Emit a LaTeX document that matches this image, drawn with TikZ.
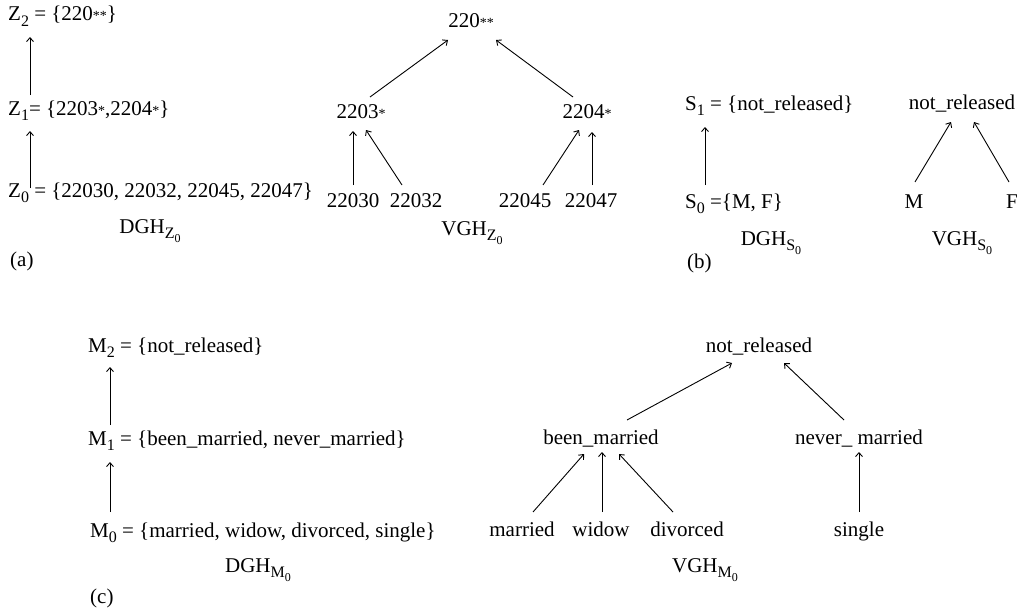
\documentclass[tikz,border=0pt]{standalone}
\usepackage{fontspec}
\setmainfont{Liberation Serif}
\usetikzlibrary{arrows.meta}
% lowered index in the running text size
\newcommand\idx[2][16]{\raisebox{-0.25em}{\fontsize{#1}{#1}\selectfont #2}}
% small generalisation star
\newcommand\gst{{\fontsize{14}{14}\selectfont *}}
\begin{document}
\begin{tikzpicture}[x=1pt,y=-1pt,
  every node/.style={font=\fontsize{21}{25}\selectfont, inner sep=0pt, anchor=base},
  lft/.style={anchor=base west},
  arr/.style={-{Straight Barb[length=4pt,width=7pt]}, line width=0.9pt}]
\useasboundingbox[fill=white] (0,0) rectangle (1024,610);

% ---------------- (a) ZIP code ----------------
\node[lft] (z2) at (8,21)  {Z\idx{2} = \{220\gst\gst\}};
\node[lft] (z1) at (8,115) {Z\idx{1}= \{2203\gst,2204\gst\}};
\node[lft] (z0) at (8,197) {Z\idx{0} = \{22030, 22032, 22045, 22047\}};
\node (dghz) at (150,233) {DGH\idx{Z\idx[12]{0}}};
\node[lft] (la) at (10,266) {(a)};
\draw[arr] ([shift={(22,-9)}]z0.base west) -- ([shift={(22,16)}]z1.base west);
\draw[arr] ([shift={(22,-20)}]z1.base west) -- ([shift={(22,16)}]z2.base west);

\node (t220)  at (471,28)  {220\gst\gst};
\node (n2203) at (361,118) {2203\gst};
\node (n2204) at (587,118) {2204\gst};
\node (l22030) at (353,207) {22030};
\node (l22032) at (416,207) {22032};
\node (l22045) at (525,207) {22045};
\node (l22047) at (591,207) {22047};
\node (vghz) at (472,235) {VGH\idx{Z\idx[12]{0}}};
\draw[arr] ([shift={(9,-21)}]n2203.base) -- ([shift={(-23,12)}]t220.base);
\draw[arr] ([shift={(-14,-21)}]n2204.base) -- ([shift={(25,12)}]t220.base);
\draw[arr] ([shift={(0,-22)}]l22030.base) -- ([shift={(-8,13)}]n2203.base);
\draw[arr] ([shift={(-14,-22)}]l22032.base) -- ([shift={(5,12)}]n2203.base);
\draw[arr] ([shift={(18,-22)}]l22045.base) -- ([shift={(-8,12)}]n2204.base);
\draw[arr] ([shift={(1,-22)}]l22047.base) -- ([shift={(5,14)}]n2204.base);

% ---------------- (b) sex ----------------
\node[lft] (s1) at (685,110) {S\idx{1} = \{not\_released\}};
\node[lft] (s0) at (685,208) {S\idx{0} =\{M, F\}};
\node (dghs) at (771,245) {DGH\idx{S\idx[12]{0}}};
\node[lft] (lb) at (687,268) {(b)};
\draw[arr] ([shift={(20,-23)}]s0.base west) -- ([shift={(20,17)}]s1.base west);

\node (nrs) at (962,109) {not\_released};
\node (sm) at (914,208) {M};
\node (sf) at (1012,208) {F};
\node (vghs) at (962,245) {VGH\idx{S\idx[12]{0}}};
\draw[arr] ([shift={(1,-26)}]sm.base) -- ([shift={(-11,13)}]nrs.base);
\draw[arr] ([shift={(-3,-26)}]sf.base) -- ([shift={(12,13)}]nrs.base);

% ---------------- (c) marital status ----------------
\node[lft] (m2) at (88,352) {M\idx{2} = \{not\_released\}};
\node[lft] (m1) at (88,445) {M\idx{1} = \{been\_married, never\_married\}};
\node[lft] (m0) at (90,537) {M\idx{0} = \{married, widow, divorced, single\}};
\node (dghm) at (258,572) {DGH\idx{M\idx[12]{0}}};
\node[lft] (lc) at (90,603) {(c)};
\draw[arr] ([shift={(20,-25)}]m0.base west) -- ([shift={(22,17)}]m1.base west);
\draw[arr] ([shift={(22,-20)}]m1.base west) -- ([shift={(22,15)}]m2.base west);

\node (nrm) at (759,352) {not\_released};
\node (been) at (601,444) {been\_married};
\node (never) at (859,444) {never\_ married};
\node (mar) at (522,536) {married};
\node (wid) at (601,536) {widow};
\node (div) at (687,536) {divorced};
\node (sgl) at (859,536) {single};
\node (vghm) at (705,572) {VGH\idx{M\idx[12]{0}}};
\draw[arr] ([shift={(26,-24)}]been.base) -- ([shift={(-27,11)}]nrm.base);
\draw[arr] ([shift={(-15,-24)}]never.base) -- ([shift={(25,11)}]nrm.base);
\draw[arr] ([shift={(11,-24)}]mar.base) -- ([shift={(-17,10)}]been.base);
\draw[arr] ([shift={(1,-24)}]wid.base) -- ([shift={(1,8)}]been.base);
\draw[arr] ([shift={(-14,-24)}]div.base) -- ([shift={(18,10)}]been.base);
\draw[arr] ([shift={(0,-24)}]sgl.base) -- ([shift={(0,8)}]never.base);
\end{tikzpicture}
\end{document}
